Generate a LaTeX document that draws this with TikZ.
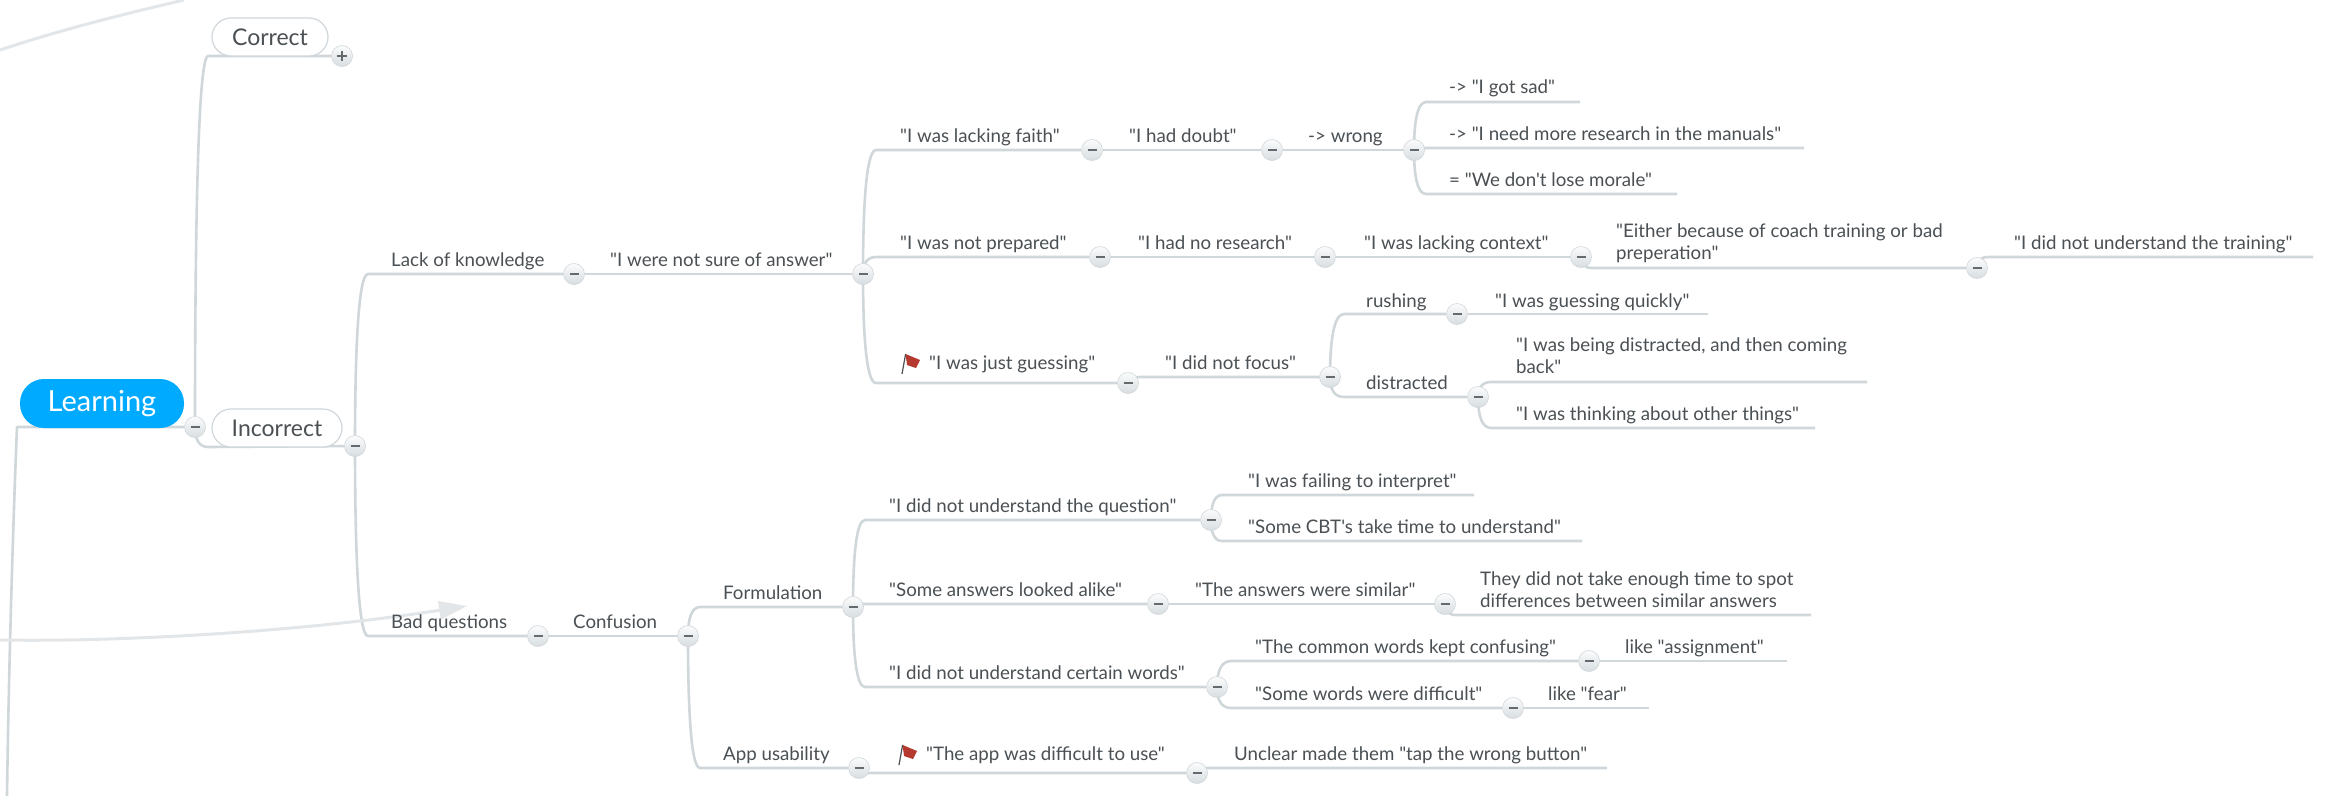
\documentclass[tikz,border=0pt]{standalone}
\usepackage{fontspec}
\setmainfont{Lato}[Ligatures=TeXOff]
\usetikzlibrary{calc,arrows.meta,backgrounds}
\definecolor{linec}{HTML}{D0D7DB}
\definecolor{relc}{HTML}{E3E6E8}
\definecolor{textc}{HTML}{4A5054}
\definecolor{rootc}{HTML}{00AAFF}
\definecolor{flagc}{HTML}{B5392F}
\tikzset{
  conn/.style={draw=linec,line width=2.6pt,line join=round},
  rel/.style={draw=relc,line width=3pt},
  lbl/.style={inner sep=0pt,anchor=base west,text=textc,font=\fontsize{18.7}{22}\selectfont},
  lbltwo/.style={inner sep=0pt,anchor=west,align=left,text=textc,font=\fontsize{18.7}{22}\selectfont},
  knob/.style={circle,minimum size=21pt,inner sep=0pt,draw=linec,line width=.6pt,top color=white!92!linec,bottom color=linec!85!white},
  cminus/.style={knob,path picture={\draw[line width=2pt,draw=textc!85!white] ($(path picture bounding box.center)+(-4.5,0)$) -- ($(path picture bounding box.center)+(4.5,0)$);}},
  cplus/.style={knob,path picture={\draw[line width=1.6pt,draw=textc!85!white] ($(path picture bounding box.center)+(-5,0)$) -- ($(path picture bounding box.center)+(5,0)$) ($(path picture bounding box.center)+(0,-5)$) -- ($(path picture bounding box.center)+(0,5)$);}},
  pill/.style={rounded corners=19pt,draw=linec,line width=1.2pt,fill=white,minimum height=38pt,inner sep=0pt,text=textc,font=\fontsize{23}{26}\selectfont},
  rootn/.style={rounded corners=24pt,fill=rootc,text=white,minimum width=164pt,minimum height=49pt,inner sep=0pt,font=\fontsize{29}{32}\selectfont},
}
\newcommand\tx[4]{\node[lbl] (#1) at (#2,#3) {#4};}
\newcommand\txtwo[4]{\node[lbltwo] (#1) at (#2,#3) {#4};}
\newcommand\kn[3]{\node[cminus] (#1) at (#2,#3) {};}
\newcommand\pt[3]{\coordinate (#1) at (#2,#3);}
\newcommand\elbow[3]{\draw[conn] (#1.center) .. controls ($(#1.center)!0.55!(#1.center|-#2)$) and ($(#1.center|-#2)!0.25!(#2)$) .. (#2) -- (#3);}
\newcommand\flagat[2]{\begin{scope}[shift={(#1,#2)}]
  \draw[draw=textc,line width=1.2pt] (0,0) -- (3.6,-20);
  \fill[flagc] (3.6,-20) -- (18,-14) -- (14,-6) -- (5,-9) -- cycle;
\end{scope}}
\begin{document}
\begin{tikzpicture}[x=1pt,y=-1pt]
\useasboundingbox (0,0) rectangle (2328,796);

% roots and collapse knobs
\node[rootn] (learning) at (102,403.5) {\raisebox{-5pt}{Learning}};
\kn{kroot}{195}{427}
\node[pill,minimum width=116pt] (correct) at (270,37) {Correct};
\node[pill,minimum width=130pt] (incorrect) at (277,428) {Incorrect};
\node[cplus] (kcorrect) at (342,56) {};
\kn{kinc}{355}{446}
\kn{klack}{574}{274}
\kn{ksure}{863}{274}
\kn{kfaith}{1092}{150}
\kn{kdoubt}{1272}{150}
\kn{kwrong}{1414}{150}
\kn{kprep}{1100}{257}
\kn{kresearch}{1325}{257}
\kn{kcontext}{1581}{257}
\kn{keither}{1977}{268}
\kn{kguess}{1128}{383}
\kn{kfocus}{1330}{377}
\kn{krush}{1457}{314}
\kn{kdistr}{1478}{397}
\kn{kbad}{538}{636}
\kn{kconf}{688}{636}
\kn{kform}{853}{607}
\kn{kapp}{859}{768}
\kn{kquest}{1211}{520}
\kn{kalike}{1158}{604}
\kn{ksimilar}{1445}{604}
\kn{kwords}{1217}{687}
\kn{kcommon}{1589}{661}
\kn{kdiff}{1513}{708}
\kn{kuse}{1197}{773}

% labels
\tx{tlack}{391}{266}{Lack of knowledge}
\tx{tsure}{610}{266}{"I were not sure of answer"}
\tx{tfaith}{900}{142}{"I was lacking faith"}
\tx{tdoubt}{1129}{142}{"I had doubt"}
\tx{twrong}{1308}{142}{-> wrong}
\tx{tsad}{1449}{93}{-> "I got sad"}
\tx{tmanual}{1449}{140}{-> "I need more research in the manuals"}
\tx{tmorale}{1449}{186}{= "We don't lose morale"}
\tx{tprep}{900}{249}{"I was not prepared"}
\tx{tresearch}{1138}{249}{"I had no research"}
\tx{tcontext}{1364}{249}{"I was lacking context"}
\txtwo{teither}{1616}{243}{"Either because of coach training or bad\\preperation"}
\tx{ttrain}{2014}{249}{"I did not understand the training"}
\tx{tjust}{929}{369}{"I was just guessing"}
\tx{tfocus}{1165}{369}{"I did not focus"}
\tx{trush}{1366}{307}{rushing}
\tx{tquick}{1495}{307}{"I was guessing quickly"}
\tx{tdistr}{1366}{389}{distracted}
\txtwo{tback}{1516}{356}{"I was being distracted, and then coming\\back"}
\tx{tthink}{1516}{420}{"I was thinking about other things"}
\tx{tbad}{391}{628}{Bad questions}
\tx{tconf}{573}{628}{Confusion}
\tx{tform}{723}{599}{Formulation}
\tx{tapp}{723}{760}{App usability}
\tx{tquest}{889}{512}{"I did not understand the question"}
\tx{tinterp}{1248}{487}{"I was failing to interpret"}
\tx{tcbt}{1248}{533}{"Some CBT's take time to understand"}
\tx{talike}{889}{596}{"Some answers looked alike"}
\tx{tsimilar}{1195}{596}{"The answers were similar"}
\txtwo{tspot}{1480}{590}{They did not take enough time to spot\\differences between similar answers}
\tx{twords}{889}{679}{"I did not understand certain words"}
\tx{tcommon}{1255}{653}{"The common words kept confusing"}
\tx{tassign}{1625}{653}{like "assignment"}
\tx{tdiff}{1255}{700}{"Some words were difficult"}
\tx{tfear}{1548}{700}{like "fear"}
\tx{tuse}{926}{760}{"The app was difficult to use"}
\tx{tunclear}{1234}{760}{Unclear made them "tap the wrong button"}

% flags
\flagat{902}{374}
\flagat{899}{765}

% free ends and corners of the connectors
\pt{bcorrect}{208}{56}
\pt{binc}{208}{447}
\pt{black}{368}{274}
\pt{bbad}{368}{636}
\pt{bfaith}{876}{150}
\pt{bprep}{876}{257}
\pt{bjust}{876}{383}
\pt{bsad}{1426}{102}
\pt{esad}{1580}{102}
\pt{bman}{1426}{148}
\pt{eman}{1804}{148}
\pt{bmor}{1426}{194}
\pt{emor}{1677}{194}
\pt{beither}{1592}{268}
\pt{btrain}{1988}{257}
\pt{etrain}{2313}{257}
\pt{bfocus}{1140}{377}
\pt{brush}{1344}{314}
\pt{bdistr}{1344}{397}
\pt{equick}{1708}{314}
\pt{bback}{1491}{382}
\pt{eback}{1867}{382}
\pt{bthink}{1491}{428}
\pt{ethink}{1815}{428}
\pt{bform}{700}{607}
\pt{bapp}{700}{768}
\pt{bquest}{865}{520}
\pt{balike}{865}{604}
\pt{bwords}{865}{687}
\pt{binterp}{1222}{495}
\pt{einterp}{1474}{495}
\pt{bcbt}{1222}{541}
\pt{ecbt}{1582}{541}
\pt{bspot}{1456}{615}
\pt{espot}{1811}{615}
\pt{bcommon}{1231}{661}
\pt{bdiff}{1231}{708}
\pt{eassign}{1787}{661}
\pt{efear}{1649}{708}
\pt{buse}{870}{773}
\pt{bunclear}{1208}{768}
\pt{eunclear}{1607}{768}
\pt{lcorner}{17}{427}
\pt{ldown}{7}{796}
\pt{topa}{0}{50}
\pt{topb}{184}{0}
\pt{rela}{0}{640}
\pt{relb}{467}{606}

\begin{pgfonlayer}{background}
  \fill[white] (0,0) rectangle (2328,796);
  \elbow{kroot}{bcorrect}{kcorrect}
  \elbow{kroot}{binc}{kinc}
  \elbow{kinc}{black}{klack}
  \elbow{kinc}{bbad}{kbad}
  \draw[conn] (klack) -- (ksure);
  \elbow{ksure}{bfaith}{kfaith}
  \elbow{ksure}{bprep}{kprep}
  \elbow{ksure}{bjust}{kguess}
  \draw[conn] (kfaith) -- (kdoubt);
  \draw[conn] (kdoubt) -- (kwrong);
  \elbow{kwrong}{bsad}{esad}
  \elbow{kwrong}{bman}{eman}
  \elbow{kwrong}{bmor}{emor}
  \draw[conn] (kprep) -- (kresearch);
  \draw[conn] (kresearch) -- (kcontext);
  \elbow{kcontext}{beither}{keither}
  \elbow{keither}{btrain}{etrain}
  \elbow{kguess}{bfocus}{kfocus}
  \elbow{kfocus}{brush}{krush}
  \elbow{kfocus}{bdistr}{kdistr}
  \draw[conn] (krush) -- (equick);
  \elbow{kdistr}{bback}{eback}
  \elbow{kdistr}{bthink}{ethink}
  \draw[conn] (kbad) -- (kconf);
  \elbow{kconf}{bform}{kform}
  \elbow{kconf}{bapp}{kapp}
  \elbow{kform}{bquest}{kquest}
  \elbow{kform}{balike}{kalike}
  \elbow{kform}{bwords}{kwords}
  \draw[conn] (kalike) -- (ksimilar);
  \elbow{ksimilar}{bspot}{espot}
  \elbow{kquest}{binterp}{einterp}
  \elbow{kquest}{bcbt}{ecbt}
  \elbow{kwords}{bcommon}{kcommon}
  \elbow{kwords}{bdiff}{kdiff}
  \draw[conn] (kcommon) -- (eassign);
  \draw[conn] (kdiff) -- (efear);
  \elbow{kapp}{buse}{kuse}
  \elbow{kuse}{bunclear}{eunclear}
  \draw[conn] (kroot) -- (lcorner) .. controls (14,500) and (9,650) .. (ldown);
  % relationship curves
  \draw[rel] (topa) .. controls (60,30) and (120,15) .. (topb);
  \draw[rel,-{Triangle[length=28pt,width=18pt,fill=relc]}] (rela) .. controls (120,642) and (300,632) .. (relb);
\end{pgfonlayer}
\end{tikzpicture}
\end{document}
